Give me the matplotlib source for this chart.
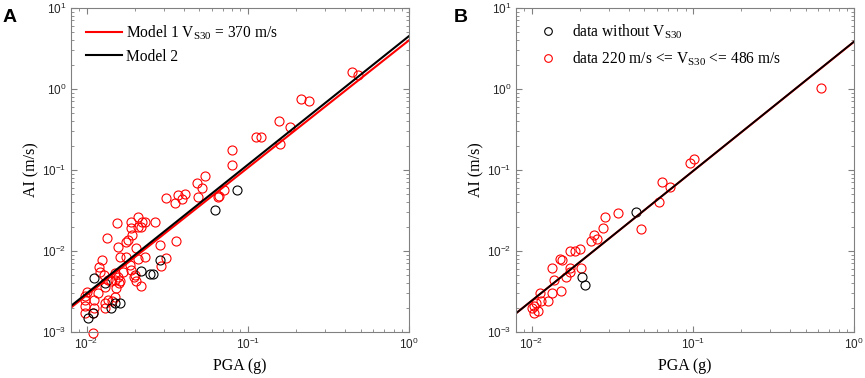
import numpy as np
import matplotlib
matplotlib.use("Agg")
import matplotlib.pyplot as plt
from matplotlib.lines import Line2D

plt.rcParams["font.family"] = ["Liberation Sans", "DejaVu Sans"]
plt.rcParams["mathtext.fontset"] = "custom"
plt.rcParams["mathtext.rm"] = "Liberation Serif"
plt.rcParams["mathtext.it"] = "Liberation Serif:italic"

# ---- panel A data ----
a_red_pga = [0.44, 0.48, 0.214, 0.24, 0.156, 0.183, 0.158, 0.112, 0.12, 0.080, 0.080,
             0.054, 0.0487, 0.052, 0.0312, 0.0355, 0.037, 0.039, 0.041, 0.049, 0.066,
             0.071, 0.065, 0.0154, 0.0209, 0.0188, 0.022, 0.023, 0.0266, 0.0209, 0.0217,
             0.0188, 0.019, 0.0175, 0.018, 0.0133, 0.0156, 0.0202, 0.0286, 0.036, 0.0124,
             0.0161, 0.0175, 0.0209, 0.023, 0.031, 0.029, 0.0185, 0.0188, 0.0120, 0.0122,
             0.0128, 0.0150, 0.0156, 0.0168, 0.0197, 0.0135, 0.0141, 0.0150, 0.0161, 0.0130,
             0.0152, 0.016, 0.0202, 0.0217, 0.020, 0.0101, 0.0098, 0.0098, 0.0112, 0.013,
             0.0135, 0.015, 0.0131, 0.0112, 0.0098, 0.0098, 0.0109, 0.0109, 0.0117, 0.0143]
a_red_ai = [1.62, 1.49, 0.75, 0.71, 0.40, 0.34, 0.21, 0.255, 0.255, 0.177, 0.115,
            0.084, 0.069, 0.060, 0.045, 0.039, 0.049, 0.044, 0.050, 0.046, 0.048,
            0.057, 0.046, 0.022, 0.026, 0.023, 0.023, 0.023, 0.023, 0.020, 0.0195,
            0.0193, 0.0158, 0.0129, 0.0138, 0.0144, 0.0113, 0.0109, 0.0117, 0.0133, 0.0077,
            0.0084, 0.0084, 0.0080, 0.0084, 0.0081, 0.0065, 0.0067, 0.0058, 0.0063, 0.0055,
            0.0050, 0.0053, 0.0048, 0.0055, 0.0048, 0.0044, 0.0042, 0.0044, 0.0042, 0.0036,
            0.0035, 0.0040, 0.0042, 0.0037, 0.0050, 0.0031, 0.0028, 0.0025, 0.0025, 0.0023,
            0.0025, 0.0027, 0.0020, 0.0020, 0.0021, 0.0017, 0.0017, 0.00097, 0.0030, 0.0024]
a_blk_pga = [0.0853, 0.063, 0.0286, 0.0218, 0.0248, 0.0258, 0.0112, 0.0131, 0.0150,
             0.0161, 0.0141, 0.0102, 0.0109]
a_blk_ai = [0.0566, 0.032, 0.0077, 0.0057, 0.0052, 0.0052, 0.0046, 0.0040, 0.0023,
            0.0023, 0.0020, 0.0015, 0.0017]

# model lines: log10(AI) = c0 + c1*log10(PGA)
model1_a = (0.602, 1.575)
model2_a = (0.654, 1.590)

# ---- panel B data ----
b_red_pga = [0.625, 0.096, 0.101, 0.064, 0.072, 0.062, 0.048, 0.0344, 0.0286, 0.0278,
             0.0245, 0.0255, 0.0232, 0.020, 0.0187, 0.0174, 0.0149, 0.0155, 0.0133, 0.0172,
             0.0203, 0.0174, 0.0164, 0.0137, 0.0153, 0.0112, 0.0133, 0.0126, 0.0114, 0.0103,
             0.0107, 0.0101, 0.0103, 0.0109]
b_red_ai = [1.03, 0.122, 0.137, 0.071, 0.062, 0.040, 0.0187, 0.029, 0.026, 0.0192,
            0.0158, 0.0142, 0.0133, 0.0106, 0.0100, 0.0100, 0.0079, 0.0077, 0.0062, 0.0062,
            0.0062, 0.0055, 0.0048, 0.0044, 0.0032, 0.0030, 0.0030, 0.0024, 0.0024, 0.0021,
            0.0023, 0.0020, 0.0017, 0.0018]
b_blk_pga = [0.0445, 0.0206, 0.0215]
b_blk_ai = [0.030, 0.0048, 0.0038]

model1_b = (0.584, 1.600)
model2_b = (0.586, 1.601)

RED = "#ff0000"
SPINE = "#808080"
serif = "Liberation Serif"

fig = plt.figure(figsize=(8.65, 3.78), dpi=100)
axA = fig.add_axes([0.082, 0.122, 0.391, 0.857])
axB = fig.add_axes([0.5965, 0.122, 0.391, 0.857])

pga_line = np.logspace(np.log10(0.008), 0, 50)


def model(c):
    return 10 ** (c[0] + c[1] * np.log10(pga_line))


def style(ax):
    ax.set_xscale("log")
    ax.set_yscale("log")
    ax.set_xlim(0.008, 1)
    ax.set_ylim(1e-3, 10)
    ax.tick_params(which="both", direction="in", top=True, right=True,
                   color=SPINE, labelsize=8.5, labelcolor="#262626")
    ax.tick_params(which="major", length=4)
    ax.tick_params(which="minor", length=2)
    for s in ax.spines.values():
        s.set_color(SPINE)
    ax.set_xlabel("PGA (g)", family=serif, fontsize=11.5, labelpad=4)
    ax.set_ylabel("AI (m/s)", family=serif, fontsize=11.5, labelpad=2)


mk = dict(marker="o", mfc="none", ms=6.5, mew=0.8, ls="none", clip_on=False)

# panel A
axA.plot(a_red_pga, a_red_ai, mec=RED, **mk)
axA.plot(a_blk_pga, a_blk_ai, mec="black", **mk)
l1, = axA.plot(pga_line, model(model1_a), color=RED, lw=1.5)
l2, = axA.plot(pga_line, model(model2_a), color="black", lw=1.5)
style(axA)
axA.legend([l1, l2], [r"Model 1 V$_{\mathrm{S30}}$ = 370 m/s", "Model 2"],
           loc="upper left", bbox_to_anchor=(0.044, 0.952), frameon=False,
           prop=dict(family=serif, size=11.2), handlelength=2.35,
           handletextpad=0.26, labelspacing=0.45, borderpad=0, borderaxespad=0)

# panel B
axB.plot(b_red_pga, b_red_ai, mec=RED, **mk)
axB.plot(b_blk_pga, b_blk_ai, mec="black", **mk)
axB.plot(pga_line, model(model1_b), color=RED, lw=1.5)
axB.plot(pga_line, model(model2_b), color="black", lw=1.3)
style(axB)
h1 = Line2D([], [], marker="o", mfc="none", mec="black", ms=5.5, mew=0.8, ls="none")
h2 = Line2D([], [], marker="o", mfc="none", mec=RED, ms=5.5, mew=0.8, ls="none")
axB.legend([h1, h2], [r"data without V$_{\mathrm{S30}}$",
                      r"data 220 m/s <= V$_{\mathrm{S30}}$ <= 486 m/s"],
           loc="upper left", bbox_to_anchor=(0.068, 0.955), frameon=False,
           prop=dict(family=serif, size=11.2), handlelength=1.2,
           handletextpad=0.9, labelspacing=0.55, borderpad=0, borderaxespad=0)

fig.text(0.003, 0.955, "A", fontsize=14, fontweight="bold", va="center")
fig.text(0.524, 0.955, "B", fontsize=14, fontweight="bold", va="center")

fig.savefig("out.png", dpi=100)
